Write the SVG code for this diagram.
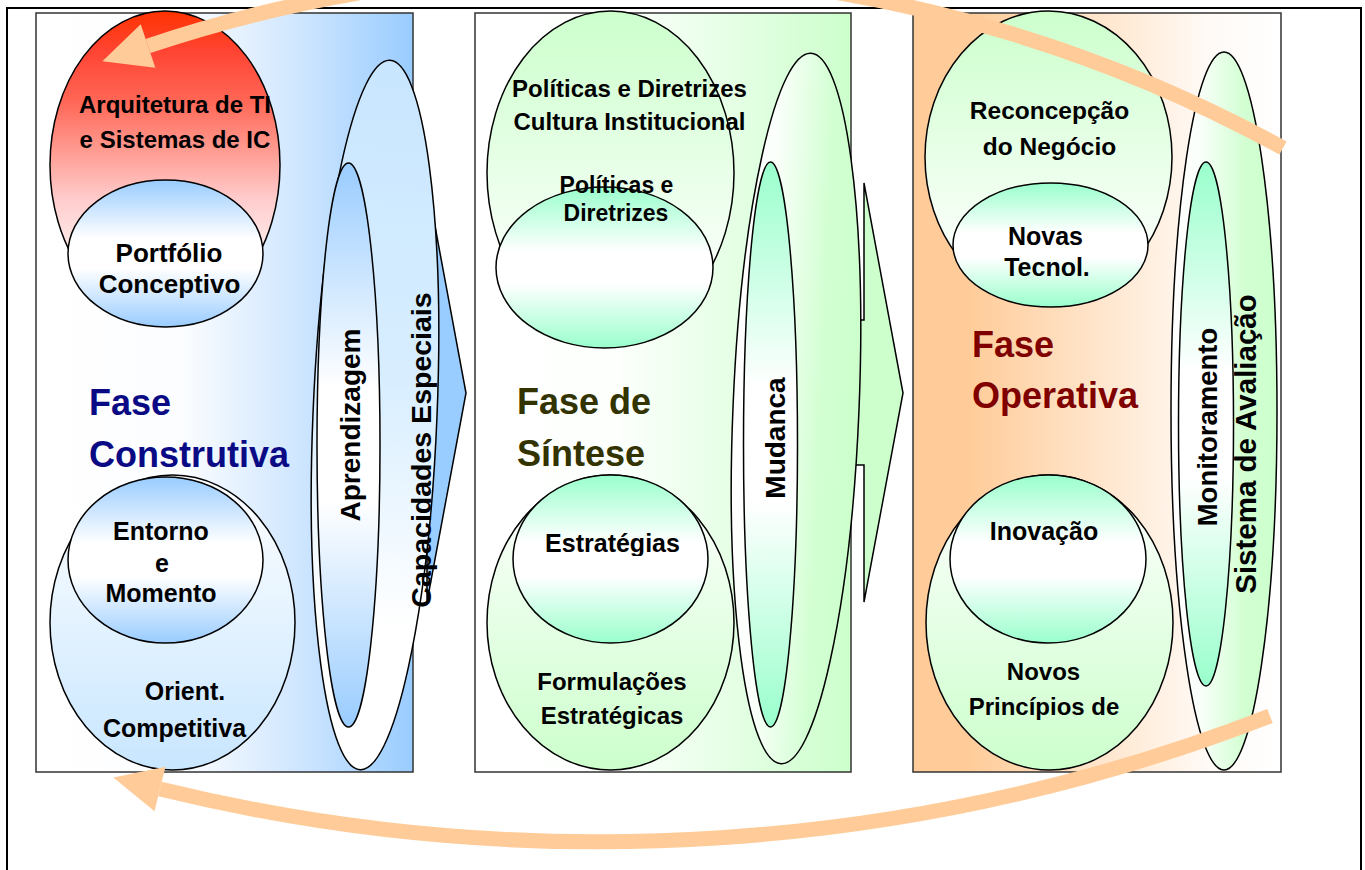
<svg xmlns="http://www.w3.org/2000/svg" width="1365" height="870" viewBox="0 0 1365 870">
<style>
.panel{stroke:#333;stroke-width:1.5}
.el{stroke:#000;stroke-width:1.5}
.lbl{font-family:"Liberation Sans",Arial,sans-serif;font-weight:bold;fill:#000;text-anchor:middle}
.phase{font-family:"Liberation Sans",Arial,sans-serif;font-weight:bold;font-size:36px}
.arc{fill:none;stroke:#ffcc99;stroke-width:15}
.head{fill:#ffcc99}
.chev{stroke:#000;stroke-width:1.5}
</style>
<defs>
<linearGradient id="gPanelBlue" x1="0" y1="0" x2="1" y2="0"><stop offset="0" stop-color="#ffffff"/><stop offset="0.38" stop-color="#fcfdff"/><stop offset="0.7" stop-color="#cfe6ff"/><stop offset="1" stop-color="#99ccff"/></linearGradient>
<linearGradient id="gPanelGreen" x1="0" y1="0" x2="1" y2="0"><stop offset="0" stop-color="#ffffff"/><stop offset="0.38" stop-color="#fcfffc"/><stop offset="0.7" stop-color="#e4ffe4"/><stop offset="1" stop-color="#ccffcc"/></linearGradient>
<linearGradient id="gPanelOrange" x1="0" y1="0" x2="1" y2="0"><stop offset="0" stop-color="#ffcc99"/><stop offset="0.15" stop-color="#ffcc99"/><stop offset="0.8" stop-color="#fffaf6"/><stop offset="1" stop-color="#ffffff"/></linearGradient>
<linearGradient id="gRed" x1="0" y1="0" x2="0" y2="1"><stop offset="0" stop-color="#ff3300"/><stop offset="0.13" stop-color="#ff4433"/><stop offset="0.29" stop-color="#ff6655"/><stop offset="0.45" stop-color="#ff9a90"/><stop offset="0.61" stop-color="#ffcccc"/><stop offset="0.75" stop-color="#ffe6e6"/><stop offset="1" stop-color="#ffffff"/></linearGradient>
<linearGradient id="gBWB" x1="0" y1="0" x2="0" y2="1"><stop offset="0" stop-color="#99ccff"/><stop offset="0.4" stop-color="#ffffff"/><stop offset="0.6" stop-color="#ffffff"/><stop offset="1" stop-color="#99ccff"/></linearGradient>
<linearGradient id="gGWG" x1="0" y1="0" x2="0" y2="1"><stop offset="0" stop-color="#99ffcc"/><stop offset="0.4" stop-color="#ffffff"/><stop offset="0.6" stop-color="#ffffff"/><stop offset="1" stop-color="#99ffcc"/></linearGradient>
<linearGradient id="gOrient" x1="0" y1="0" x2="0" y2="1"><stop offset="0" stop-color="#ffffff"/><stop offset="1" stop-color="#c8e6ff"/></linearGradient>
<linearGradient id="gLowGreen" x1="0" y1="0" x2="0" y2="1"><stop offset="0" stop-color="#ffffff"/><stop offset="1" stop-color="#ccffcc"/></linearGradient>
<linearGradient id="gTopGreen" x1="0" y1="0" x2="0" y2="1"><stop offset="0" stop-color="#ccffcc"/><stop offset="0.9" stop-color="#ffffff"/></linearGradient>
<linearGradient id="gCapOuter" x1="0" y1="0" x2="0" y2="1"><stop offset="0" stop-color="#c8e6ff"/><stop offset="0.45" stop-color="#d8eeff"/><stop offset="0.8" stop-color="#ffffff"/></linearGradient>
<linearGradient id="gHorizGreen" x1="0" y1="0" x2="1" y2="0"><stop offset="0" stop-color="#ffffff"/><stop offset="0.25" stop-color="#fbfffb"/><stop offset="0.7" stop-color="#d2ffd2"/><stop offset="1" stop-color="#ccffcc"/></linearGradient>
<clipPath id="clipEstr"><rect x="500" y="500" width="220" height="56"/></clipPath>
</defs>

<rect x="0" y="0" width="1365" height="870" fill="#ffffff"/>
<rect x="7" y="8" width="1354" height="880" fill="none" stroke="#000" stroke-width="2"/>

<g id="panels">
<rect id="panel-construtiva" class="panel" x="36" y="13" width="377" height="759" fill="url(#gPanelBlue)"/>
<rect id="panel-sintese" class="panel" x="475" y="13" width="376" height="759" fill="url(#gPanelGreen)"/>
<rect id="panel-operativa" class="panel" x="913" y="13" width="368" height="759" fill="url(#gPanelOrange)"/>
</g>

<g id="phase-arrows">
<polygon class="chev" fill="#99ccff" points="380,320 427,320 427,183 466,393 427,602 427,465 380,465"/>
<polygon class="chev" fill="#ccffcc" points="790,320 864,320 864,183 903,393 864,602 864,465 790,465"/>
</g>

<g id="node-arquitetura">
<ellipse class="el" cx="165" cy="165" rx="115" ry="154" fill="url(#gRed)"/>
<text class="lbl" font-size="24" x="175" y="113">Arquitetura de TI</text>
<text class="lbl" font-size="24" x="175" y="148">e Sistemas de IC</text>
</g>
<g id="node-portfolio">
<ellipse class="el" cx="165.5" cy="253.5" rx="97.5" ry="73.5" fill="url(#gBWB)"/>
<text class="lbl" font-size="26" x="169" y="262">Portfólio</text>
<text class="lbl" font-size="26" x="169.5" y="293">Conceptivo</text>
</g>
<g id="label-fase-construtiva">
<text class="phase" fill="#0a0a85" x="89" y="415">Fase</text>
<text class="phase" fill="#0a0a85" x="89" y="467">Construtiva</text>
</g>
<g id="node-orient">
<ellipse class="el" cx="172.5" cy="622.5" rx="122.5" ry="147.5" fill="url(#gOrient)"/>
<text class="lbl" font-size="25" x="185" y="700">Orient.</text>
<text class="lbl" font-size="25" x="174.5" y="737">Competitiva</text>
</g>
<g id="node-entorno">
<ellipse class="el" cx="165.5" cy="560" rx="97.5" ry="83" fill="url(#gBWB)"/>
<text class="lbl" font-size="25" x="161" y="540">Entorno</text>
<text class="lbl" font-size="25" x="162" y="572">e</text>
<text class="lbl" font-size="25" x="161" y="602">Momento</text>
</g>
<g id="node-capacidades">
<ellipse class="el" cx="375" cy="415" rx="62" ry="355" transform="rotate(2.4 375 415)" fill="url(#gCapOuter)"/>
</g>
<g id="node-aprendizagem">
<ellipse class="el" cx="348.5" cy="445" rx="31.5" ry="282" fill="url(#gBWB)"/>
<text class="lbl" font-size="28" transform="translate(360,425) rotate(-90)">Aprendizagem</text>
</g>
<text class="lbl" font-size="28.5" transform="translate(431,450) rotate(-90)">Capacidades Especiais</text>

<g id="node-politicas-cultura">
<ellipse class="el" cx="610.5" cy="173" rx="123.5" ry="162" fill="url(#gTopGreen)"/>
<text class="lbl" font-size="24" x="629.5" y="97">Políticas e Diretrizes</text>
<text class="lbl" font-size="24" x="629.5" y="130">Cultura Institucional</text>
</g>
<g id="node-politicas">
<ellipse class="el" cx="604.5" cy="267.5" rx="108.5" ry="80.5" fill="url(#gGWG)"/>
<text class="lbl" font-size="23" x="616.5" y="193">Políticas e</text>
<text class="lbl" font-size="23" x="616" y="221">Diretrizes</text>
</g>
<g id="label-fase-sintese">
<text class="phase" fill="#333300" x="517" y="414">Fase de</text>
<text class="phase" fill="#333300" x="517" y="466">Síntese</text>
</g>
<g id="node-formulacoes">
<ellipse class="el" cx="610.5" cy="622.5" rx="123.5" ry="147.5" fill="url(#gLowGreen)"/>
<text class="lbl" font-size="24" x="612" y="690">Formulações</text>
<text class="lbl" font-size="24" x="612" y="724">Estratégicas</text>
</g>
<g id="node-estrategias">
<ellipse class="el" cx="610.5" cy="559" rx="97.5" ry="84" fill="url(#gGWG)"/>
<text class="lbl" font-size="25" x="612.5" y="552" clip-path="url(#clipEstr)">Estratégias</text>
</g>
<g id="node-mudanca-outer">
<ellipse class="el" cx="796" cy="408.5" rx="63" ry="355.5" transform="rotate(2.4 796 408.5)" fill="url(#gHorizGreen)"/>
</g>
<g id="node-mudanca">
<ellipse class="el" cx="770.5" cy="444.5" rx="27" ry="282.5" fill="url(#gGWG)"/>
<text class="lbl" font-size="28" transform="translate(785,438) rotate(-90)">Mudanca</text>
</g>

<g id="node-reconcepcao">
<ellipse class="el" cx="1048.5" cy="157" rx="123.5" ry="146" fill="url(#gTopGreen)"/>
<text class="lbl" font-size="24.5" x="1049.5" y="119">Reconcepção</text>
<text class="lbl" font-size="24.5" x="1049.5" y="155">do Negócio</text>
</g>
<g id="node-novas-tecnol">
<ellipse class="el" cx="1050.5" cy="245" rx="97.5" ry="62" fill="url(#gGWG)"/>
<text class="lbl" font-size="25" x="1045.5" y="245">Novas</text>
<text class="lbl" font-size="25" x="1047" y="276">Tecnol.</text>
</g>
<g id="label-fase-operativa">
<text class="phase" fill="#800000" x="972" y="357">Fase</text>
<text class="phase" fill="#800000" x="972" y="408">Operativa</text>
</g>
<g id="node-novos-principios">
<ellipse class="el" cx="1049.5" cy="622.5" rx="123.5" ry="147.5" fill="url(#gLowGreen)"/>
<text class="lbl" font-size="24" x="1043.5" y="680">Novos</text>
<text class="lbl" font-size="24" x="1044" y="715">Princípios de</text>
</g>
<g id="node-inovacao">
<ellipse class="el" cx="1048" cy="559" rx="98" ry="84" fill="url(#gGWG)"/>
<text class="lbl" font-size="25" x="1044" y="540">Inovação</text>
</g>
<g id="node-sistema-avaliacao">
<ellipse class="el" cx="1224" cy="411" rx="53" ry="359" fill="url(#gHorizGreen)"/>
</g>
<g id="node-monitoramento">
<ellipse class="el" cx="1206" cy="424" rx="27.5" ry="262" fill="url(#gGWG)"/>
<text class="lbl" font-size="27.5" transform="translate(1217,427) rotate(-90)">Monitoramento</text>
</g>
<text class="lbl" font-size="29.5" transform="translate(1256,444) rotate(-90)">Sistema de Avaliação</text>

<g id="connectors">
<path class="arc" d="M 1283 148 A 1420 1420 0 0 0 148 46"/>
<polygon class="head" points="102.4,61.2 140.7,24.2 155.3,67.8"/>
<path class="arc" d="M 1270 716 A 1853 1853 0 0 1 160 789"/>
<polygon class="head" points="113.4,777.6 165.5,766.7 154.5,811.3"/>
</g>
</svg>
